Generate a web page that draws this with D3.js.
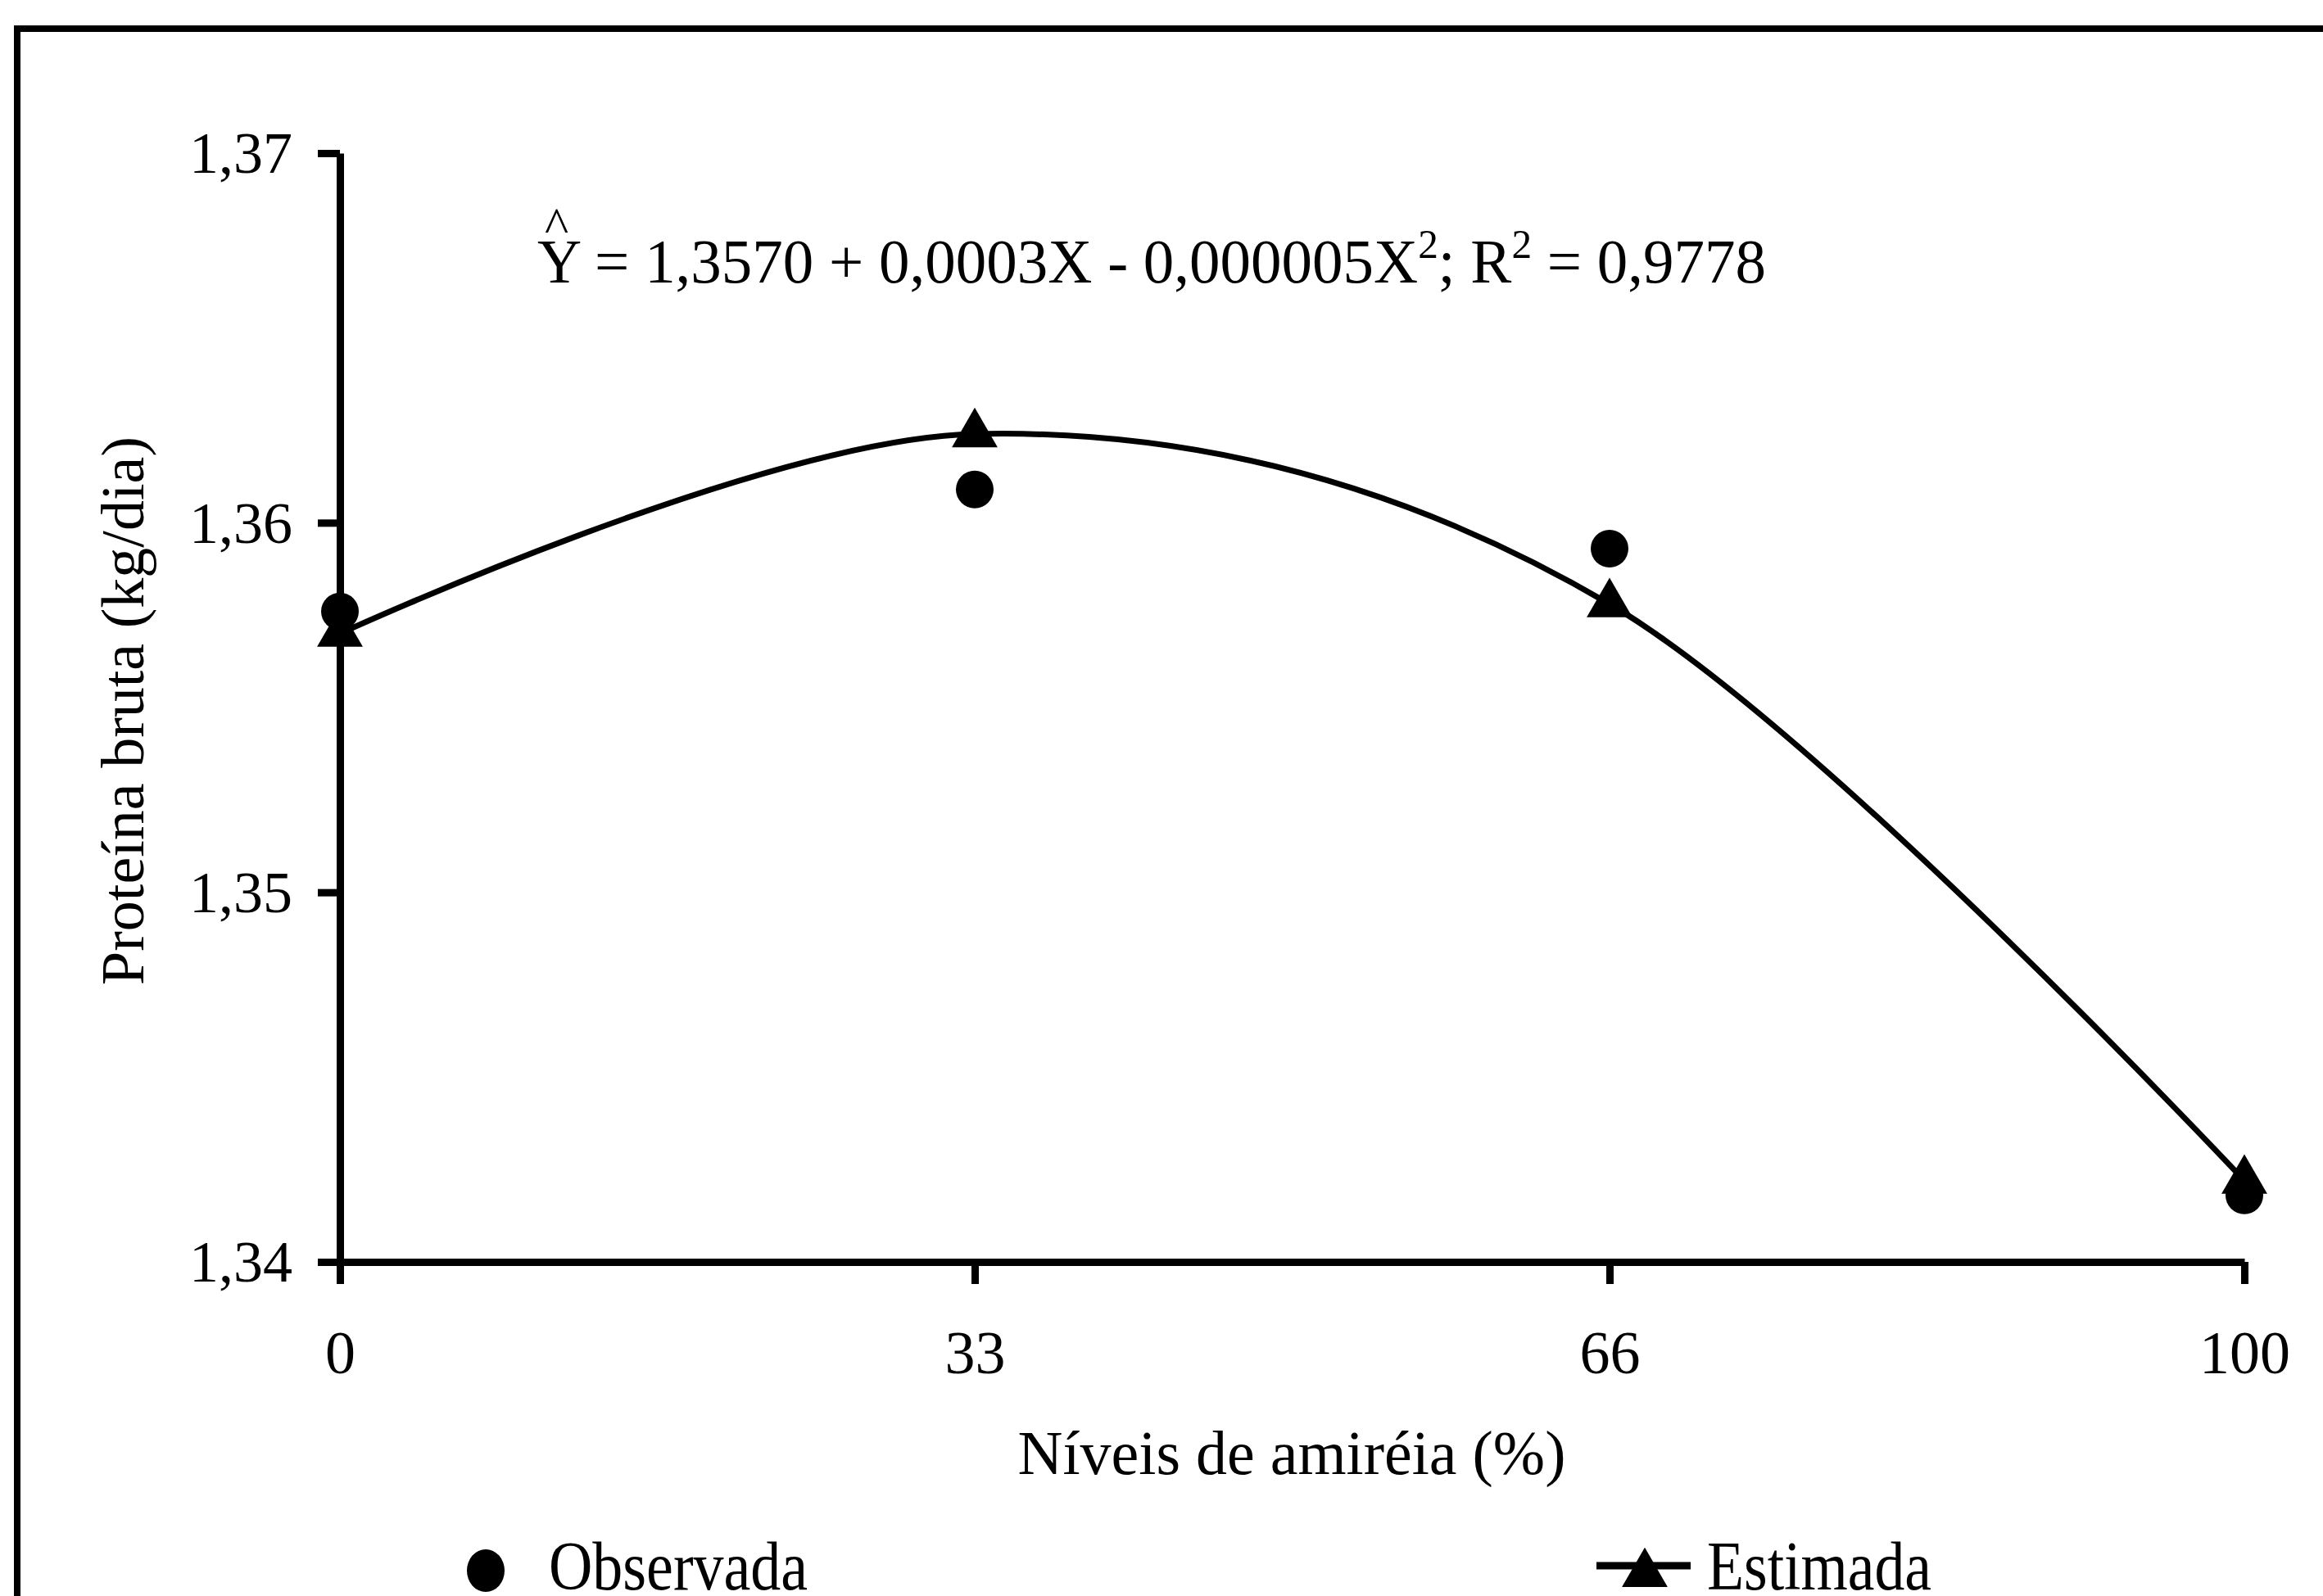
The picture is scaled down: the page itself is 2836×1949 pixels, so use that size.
<!DOCTYPE html>
<html>
<head>
<meta charset="utf-8">
<script src="https://cdn.jsdelivr.net/npm/d3@7"></script>
<style>
  html, body { margin: 0; padding: 0; background: #fff; }
  svg { display: block; }
  text { font-family: "Liberation Serif", "Times New Roman", serif; fill: #000; }
</style>
</head>
<body>
<script>
// ---- data ----
const categories = ["0", "33", "66", "100"];
const observed  = [1.3576, 1.3609, 1.3593, 1.3418];
const estimated = [1.3570, 1.3624, 1.3578, 1.3422];
const yTicks = [1.34, 1.35, 1.36, 1.37];
const yTitle = "Proteína bruta (kg/dia)";
const xTitle = "Níveis de amiréia (%)";
const legendLabels = ["Observada", "Estimada"];

// ---- layout ----
const W = 2836, H = 1949;
const svg = d3.select("body").append("svg").attr("width", W).attr("height", H);

const x = d3.scalePoint().domain(categories).range([415, 2740]);
const y = d3.scaleLinear().domain([1.34, 1.37]).range([1541, 187]);

// frame (top + left)
svg.append("path")
  .attr("d", "M21,1960 V35 H2836")
  .attr("fill", "none").attr("stroke", "#000").attr("stroke-width", 8);

// y axis
const yAxis = svg.append("g").attr("transform", "translate(415,0)")
  .call(d3.axisLeft(y).tickValues(yTicks).tickSize(27).tickSizeOuter(0).tickPadding(31)
    .tickFormat(d => d.toFixed(2).replace(".", ",")));
yAxis.selectAll("path.domain").attr("stroke", "#000").attr("stroke-width", 9);
yAxis.selectAll(".tick line").attr("stroke", "#000").attr("stroke-width", 9);
yAxis.selectAll(".tick text").attr("font-size", 72).attr("font-family", "Liberation Serif").attr("dy", "0.33em");

// x axis
const xAxis = svg.append("g").attr("transform", "translate(0,1541)")
  .call(d3.axisBottom(x).tickSize(27).tickSizeOuter(0));
xAxis.selectAll("path.domain").attr("stroke", "#000").attr("stroke-width", 9);
xAxis.selectAll(".tick line").attr("stroke", "#000").attr("stroke-width", 9);
xAxis.selectAll(".tick text").attr("font-size", 74).attr("font-family", "Liberation Serif")
  .attr("y", 136).attr("dy", 0);

// axis titles
svg.append("text")
  .attr("transform", "translate(175,868) rotate(-90)")
  .attr("text-anchor", "middle").attr("font-size", 74)
  .text(yTitle);
svg.append("text")
  .attr("x", 1577).attr("y", 1800)
  .attr("text-anchor", "middle").attr("font-size", 76)
  .text(xTitle);

// equation
svg.append("text").attr("x", 665).attr("y", 296).attr("font-size", 62).text("^");
const eq = svg.append("text").attr("x", 656).attr("y", 345).attr("font-size", 76)
  .attr("textLength", 1500).attr("lengthAdjust", "spacingAndGlyphs");
eq.append("tspan").text("Y = 1,3570 + 0,0003X - 0,000005X");
eq.append("tspan").attr("dy", -30).attr("font-size", 50).text("2");
eq.append("tspan").attr("dy", 30).text("; R");
eq.append("tspan").attr("dy", -30).attr("font-size", 50).text("2");
eq.append("tspan").attr("dy", 30).text(" = 0,9778");

// fitted curve
const line = d3.line()
  .x((d, i) => x(categories[i]))
  .y(d => y(d))
  .curve(d3.curveCatmullRom.alpha(0));
svg.append("path")
  .datum(estimated)
  .attr("d", line)
  .attr("fill", "none").attr("stroke", "#000").attr("stroke-width", 7);

// observed circles
svg.selectAll("circle.obs")
  .data(observed).enter().append("circle")
  .attr("class", "obs")
  .attr("cx", (d, i) => x(categories[i]))
  .attr("cy", d => y(d))
  .attr("r", 23).attr("fill", "#000");

// estimated triangles
const tri = d3.symbol().type(d3.symbolTriangle).size(1350);
svg.selectAll("path.est")
  .data(estimated).enter().append("path")
  .attr("class", "est")
  .attr("d", tri)
  .attr("transform", (d, i) => `translate(${x(categories[i])},${y(d)})`)
  .attr("fill", "#000");

// legend
svg.append("ellipse").attr("cx", 593).attr("cy", 1918).attr("rx", 23).attr("ry", 26).attr("fill", "#000");
svg.append("text").attr("x", 670).attr("y", 1941).attr("font-size", 84)
  .attr("textLength", 316).attr("lengthAdjust", "spacingAndGlyphs").text(legendLabels[0]);

svg.append("line").attr("x1", 1949).attr("x2", 2064).attr("y1", 1912).attr("y2", 1912)
  .attr("stroke", "#000").attr("stroke-width", 9);
svg.append("path").attr("d", tri).attr("transform", "translate(2008,1922)").attr("fill", "#000");
svg.append("text").attr("x", 2084).attr("y", 1941).attr("font-size", 84)
  .attr("textLength", 274).attr("lengthAdjust", "spacingAndGlyphs").text(legendLabels[1]);
</script>
</body>
</html>
